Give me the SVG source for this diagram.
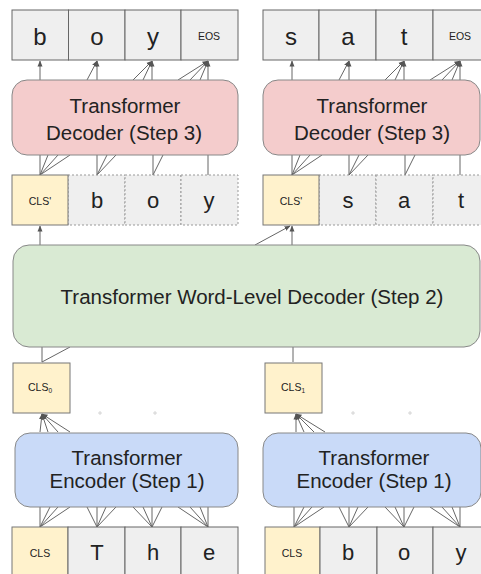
<svg xmlns="http://www.w3.org/2000/svg" width="481" height="574" viewBox="0 0 481 574">
<style>
text{font-family:"Liberation Sans",Arial,sans-serif;fill:#222;text-anchor:middle}
.tok{font-size:22px}
.tokt{font-size:24px}
.sm{font-size:10.5px}
.big{font-size:20.5px}
.wlt{font-size:20.5px}
.cell{fill:#efefef;stroke:#666;stroke-width:1}
.dcell{fill:#efefef;stroke:#999;stroke-width:1;stroke-dasharray:2 2}
.cls{fill:#fff2cc;stroke:#777;stroke-width:1}
.dec{fill:#f4cccc;stroke:#888;stroke-width:1}
.wl{fill:#d9ead3;stroke:#888;stroke-width:1}
.enc{fill:#c9daf8;stroke:#888;stroke-width:1}
.ln{stroke:#666;stroke-width:1;fill:none}
.ar{stroke:#666;stroke-width:1;fill:none;marker-end:url(#ah)}
.faint{stroke:#ccc;stroke-width:0.8}
</style>
<defs>
<marker id="ah" markerUnits="userSpaceOnUse" markerWidth="6" markerHeight="6" viewBox="0 0 6 6" refX="5.5" refY="3" orient="auto">
<path d="M0,0.5 L6,3 L0,5.5 z" fill="#555"/>
</marker>
</defs>

<g id="connectors">
<line class="ar" x1="40" y1="80" x2="40" y2="61"/>
<line class="ar" x1="87" y1="80" x2="97" y2="61"/>
<line class="ar" x1="97" y1="80" x2="97" y2="61"/>
<line class="ar" x1="133" y1="80" x2="152" y2="61"/>
<line class="ar" x1="143" y1="80" x2="152" y2="61"/>
<line class="ar" x1="152" y1="80" x2="152" y2="61"/>
<line class="ar" x1="178" y1="80" x2="208" y2="61"/>
<line class="ar" x1="190" y1="80" x2="208" y2="61"/>
<line class="ar" x1="200" y1="80" x2="208" y2="61"/>
<line class="ar" x1="208" y1="80" x2="208" y2="61"/>
<line class="ar" x1="292" y1="80" x2="292" y2="61"/>
<line class="ar" x1="339" y1="80" x2="349" y2="61"/>
<line class="ar" x1="349" y1="80" x2="349" y2="61"/>
<line class="ar" x1="385" y1="80" x2="404" y2="61"/>
<line class="ar" x1="395" y1="80" x2="404" y2="61"/>
<line class="ar" x1="404" y1="80" x2="404" y2="61"/>
<line class="ar" x1="430" y1="80" x2="460" y2="61"/>
<line class="ar" x1="442" y1="80" x2="460" y2="61"/>
<line class="ar" x1="452" y1="80" x2="460" y2="61"/>
<line class="ar" x1="460" y1="80" x2="460" y2="61"/>
<path class="ln" d="M40,175 L40,155 M40,175 L48,155 M40,175 L58,155 M40,175 L70,155 M97,175 L97,155 M97,175 L107,155 M97,175 L116,155 M153,175 L153,155 M153,175 L163,155 M208,175 L208,155"/>
<path class="ln" d="M292,175 L292,155 M292,175 L300,155 M292,175 L310,155 M292,175 L322,155 M349,175 L349,155 M349,175 L359,155 M349,175 L368,155 M405,175 L405,155 M405,175 L415,155 M460,175 L460,155"/>
<line class="ar" x1="40" y1="245" x2="40" y2="226"/>
<line class="ar" x1="292" y1="245" x2="292" y2="226"/>
<line class="ar" x1="255" y1="245" x2="290" y2="226"/>
<path class="ln" d="M42,362 L42,347 M42,362 L70,347 M293,362 L293,347"/>
<line class="ar" x1="40" y1="432" x2="42" y2="414"/>
<line class="ar" x1="48" y1="432" x2="42" y2="414"/>
<line class="ar" x1="58" y1="432" x2="42" y2="414"/>
<line class="ar" x1="70" y1="432" x2="42" y2="414"/>
<line class="ar" x1="296" y1="432" x2="296" y2="414"/>
<line class="ar" x1="304" y1="432" x2="296" y2="414"/>
<line class="ar" x1="314" y1="432" x2="296" y2="414"/>
<line class="ar" x1="325" y1="432" x2="296" y2="414"/>
<path class="faint" d="M98,413 h4 M100,411 v4 M153,413 h4 M155,411 v4 M351,413 h4 M353,411 v4 M408,413 h4 M410,411 v4"/>
<path class="ln" d="M40,527 L40,507 M40,527 L50,507 M40,527 L58,507 M40,527 L70,507 M97,527 L87,507 M97,527 L97,507 M97,527 L106,507 M97,527 L116,507 M152,527 L133,507 M152,527 L143,507 M152,527 L152,507 M152,527 L162,507 M208,527 L178,507 M208,527 L190,507 M208,527 L200,507 M208,527 L208,507"/>
<path class="ln" d="M294,527 L294,507 M294,527 L304,507 M294,527 L312,507 M294,527 L324,507 M349,527 L339,507 M349,527 L349,507 M349,527 L358,507 M349,527 L368,507 M404,527 L385,507 M404,527 L395,507 M404,527 L404,507 M404,527 L414,507 M460,527 L430,507 M460,527 L442,507 M460,527 L452,507 M460,527 L460,507"/>
</g>

<g id="out-left">
<rect class="cell" x="12" y="10" width="56.5" height="50"/>
<rect class="cell" x="68.5" y="10" width="56.5" height="50"/>
<rect class="cell" x="125" y="10" width="56" height="50"/>
<rect class="cell" x="181" y="10" width="57" height="50"/>
<text class="tokt" x="40" y="45">b</text>
<text class="tokt" x="97" y="45">o</text>
<text class="tokt" x="153" y="45">y</text>
<text class="sm" x="209" y="40">EOS</text>
</g>
<g id="out-right">
<rect class="cell" x="263" y="10" width="56" height="50"/>
<rect class="cell" x="319" y="10" width="57" height="50"/>
<rect class="cell" x="376" y="10" width="57" height="50"/>
<rect class="cell" x="433" y="10" width="60" height="50"/>
<text class="tokt" x="291" y="45">s</text>
<text class="tokt" x="348" y="45">a</text>
<text class="tokt" x="404" y="45">t</text>
<text class="sm" x="460" y="40">EOS</text>
</g>

<g id="decoder-left">
<rect class="dec" x="12" y="80" width="226" height="75" rx="15"/>
<text class="big" x="125" y="113">Transformer</text>
<text class="big" x="124" y="140">Decoder (Step 3)</text>
</g>
<g id="decoder-right">
<rect class="dec" x="263" y="80" width="217" height="75" rx="15"/>
<text class="big" x="372" y="113">Transformer</text>
<text class="big" x="372" y="140">Decoder (Step 3)</text>
</g>

<g id="in-left">
<rect class="dcell" x="68" y="175" width="57" height="50"/>
<rect class="dcell" x="125" y="175" width="56" height="50"/>
<rect class="dcell" x="181" y="175" width="57" height="50"/>
<rect class="cls" x="12" y="175" width="56" height="50"/>
<text class="sm" x="40" y="205">CLS'</text>
<text class="tok" x="97" y="208">b</text>
<text class="tok" x="153" y="208">o</text>
<text class="tok" x="209" y="208">y</text>
</g>
<g id="in-right">
<rect class="dcell" x="319" y="175" width="57" height="50"/>
<rect class="dcell" x="376" y="175" width="57" height="50"/>
<rect class="dcell" x="433" y="175" width="60" height="50"/>
<rect class="cls" x="263" y="175" width="56" height="50"/>
<text class="sm" x="291" y="205">CLS'</text>
<text class="tok" x="348" y="208">s</text>
<text class="tok" x="404" y="208">a</text>
<text class="tok" x="461" y="208">t</text>
</g>

<g id="word-decoder">
<rect class="wl" x="13" y="245" width="467" height="102" rx="16"/>
<text class="wlt" x="252" y="304">Transformer Word-Level Decoder (Step 2)</text>
</g>

<g id="cls0">
<rect class="cls" x="13" y="363" width="57" height="50"/>
<text class="sm" x="40" y="391">CLS<tspan font-size="6.5" dy="2">0</tspan></text>
</g>
<g id="cls1">
<rect class="cls" x="265" y="363" width="57" height="50"/>
<text class="sm" x="293" y="391">CLS<tspan font-size="6.5" dy="2">1</tspan></text>
</g>

<g id="encoder-left">
<rect class="enc" x="15" y="433" width="223" height="74" rx="15"/>
<text class="big" x="127" y="465">Transformer</text>
<text class="big" x="127" y="488">Encoder (Step 1)</text>
</g>
<g id="encoder-right">
<rect class="enc" x="263" y="433" width="218" height="74" rx="15"/>
<text class="big" x="374" y="465">Transformer</text>
<text class="big" x="374" y="488">Encoder (Step 1)</text>
</g>

<g id="src-left">
<rect class="cls" x="12" y="527" width="56" height="55"/>
<rect class="cell" x="68" y="527" width="57" height="55"/>
<rect class="cell" x="125" y="527" width="56" height="55"/>
<rect class="cell" x="181" y="527" width="57" height="55"/>
<text class="sm" x="40" y="557">CLS</text>
<text class="tok" x="97" y="560">T</text>
<text class="tok" x="153" y="560">h</text>
<text class="tok" x="209" y="560">e</text>
</g>
<g id="src-right">
<rect class="cls" x="265" y="527" width="55" height="55"/>
<rect class="cell" x="320" y="527" width="57" height="55"/>
<rect class="cell" x="377" y="527" width="56" height="55"/>
<rect class="cell" x="433" y="527" width="60" height="55"/>
<text class="sm" x="292" y="557">CLS</text>
<text class="tok" x="348" y="560">b</text>
<text class="tok" x="404" y="560">o</text>
<text class="tok" x="461" y="560">y</text>
</g>
</svg>
